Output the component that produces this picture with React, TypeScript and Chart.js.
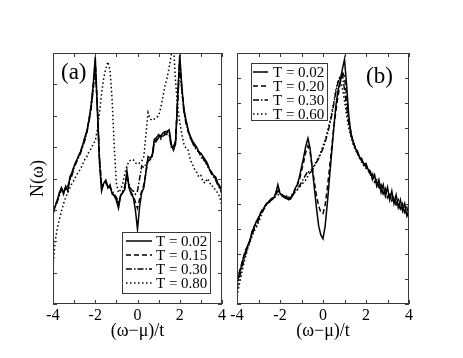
import React, { useEffect, useRef } from "react";
import { Chart, registerables } from "chart.js";
Chart.register(...registerables);

// Shared energy grid (ω−μ)/t
const XS = [-4.0, -3.9, -3.8, -3.7, -3.6, -3.5, -3.4, -3.3, -3.2, -3.1, -3.0, -2.9, -2.8, -2.7, -2.6, -2.5, -2.4, -2.3, -2.2, -2.1, -2.0, -1.9, -1.8, -1.7, -1.6, -1.5, -1.4, -1.3, -1.2, -1.1, -1.0, -0.9, -0.8, -0.7, -0.6, -0.5, -0.4, -0.3, -0.2, -0.1, 0.0, 0.1, 0.2, 0.3, 0.4, 0.5, 0.6, 0.7, 0.8, 0.9, 1.0, 1.1, 1.2, 1.3, 1.4, 1.5, 1.6, 1.7, 1.8, 1.9, 2.0, 2.1, 2.2, 2.3, 2.4, 2.5, 2.6, 2.7, 2.8, 2.9, 3.0, 3.1, 3.2, 3.3, 3.4, 3.5, 3.6, 3.7, 3.8, 3.9, 4.0];

// Panel (a)
const LABELS_A = ["T = 0.02", "T = 0.15", "T = 0.30", "T = 0.80"];
const A_T002 = [2.9, 3.1, 3.3, 3.55, 3.7, 3.5, 3.75, 3.6, 4.05, 4.2, 4.4, 4.55, 4.7, 4.85, 5.05, 5.3, 5.5, 5.85, 6.3, 6.95, 7.88, 6.2, 4.5, 3.6, 3.85, 3.95, 3.7, 3.8, 3.5, 3.45, 3.3, 3.05, 3.45, 3.55, 3.65, 4.25, 3.7, 3.5, 3.4, 3.0, 2.38, 3.1, 3.55, 3.7, 4.2, 4.7, 4.65, 4.75, 5.25, 5.3, 5.4, 5.35, 5.45, 5.5, 5.5, 5.55, 5.1, 4.9, 5.1, 6.6, 7.94, 6.9, 6.2, 5.85, 5.55, 5.35, 5.2, 5.1, 5.0, 4.85, 4.8, 4.7, 4.6, 4.5, 4.3, 4.2, 4.1, 4.05, 3.85, 3.75, 3.6];
const A_T015 = [2.95, 3.15, 3.3, 3.5, 3.7, 3.55, 3.7, 3.65, 4.0, 4.15, 4.4, 4.55, 4.7, 4.85, 5.05, 5.25, 5.5, 5.85, 6.3, 6.9, 7.75, 6.2, 4.6, 3.7, 3.8, 3.9, 3.75, 3.75, 3.55, 3.45, 3.35, 3.15, 3.45, 3.55, 3.7, 4.15, 3.75, 3.55, 3.45, 3.25, 3.05, 3.35, 3.6, 3.8, 4.2, 4.6, 4.6, 4.75, 5.2, 5.25, 5.35, 5.3, 5.4, 5.45, 5.45, 5.5, 5.05, 4.95, 5.15, 6.5, 7.8, 6.85, 6.15, 5.8, 5.5, 5.3, 5.15, 5.05, 4.95, 4.85, 4.75, 4.65, 4.55, 4.45, 4.3, 4.2, 4.05, 4.0, 3.85, 3.7, 3.55];
const A_T030 = [2.85, 3.1, 3.25, 3.45, 3.65, 3.6, 3.7, 3.75, 3.95, 4.1, 4.35, 4.5, 4.65, 4.8, 5.0, 5.2, 5.45, 5.8, 6.2, 6.8, 7.6, 6.3, 4.7, 3.8, 3.8, 3.85, 3.75, 3.7, 3.6, 3.5, 3.4, 3.25, 3.45, 3.6, 3.75, 4.05, 3.8, 3.65, 3.6, 3.5, 3.6, 4.0, 4.4, 4.35, 4.45, 4.55, 4.6, 4.7, 5.1, 5.2, 5.3, 5.25, 5.35, 5.4, 5.4, 5.4, 5.0, 5.0, 5.2, 6.4, 7.65, 6.8, 6.1, 5.75, 5.5, 5.3, 5.15, 5.0, 4.9, 4.85, 4.7, 4.6, 4.55, 4.4, 4.3, 4.15, 4.05, 3.95, 3.8, 3.7, 3.5];
const A_T080 = [1.2, 2.0, 2.4, 2.7, 2.95, 3.2, 3.4, 3.55, 3.7, 3.85, 3.95, 4.1, 4.2, 4.3, 4.45, 4.6, 4.7, 4.85, 4.95, 5.1, 5.2, 5.55, 6.1, 6.7, 7.2, 7.5, 7.72, 7.45, 6.5, 5.0, 3.85, 3.55, 3.65, 3.85, 4.15, 4.4, 4.55, 4.6, 4.6, 4.5, 4.45, 4.5, 4.55, 4.7, 5.4, 6.1, 5.9, 5.85, 5.9, 5.95, 6.0, 6.25, 6.6, 6.95, 7.2, 7.55, 7.95, 8.3, 7.1, 6.3, 5.8, 5.4, 5.1, 4.95, 4.9, 4.6, 4.45, 4.3, 4.2, 4.05, 4.1, 3.9, 3.85, 4.0, 3.9, 3.75, 3.75, 3.6, 3.55, 3.4, 3.1];

// Panel (b)
const LABELS_B = ["T = 0.02", "T = 0.20", "T = 0.30", "T = 0.60"];
const B_T002 = [0.83, 1.2, 1.5, 1.85, 2.1, 2.35, 2.5, 2.9, 3.05, 3.3, 3.4, 3.65, 3.75, 3.9, 4.0, 4.1, 4.15, 4.2, 4.4, 4.75, 4.4, 4.35, 4.25, 4.3, 4.15, 4.2, 4.35, 4.6, 4.75, 5.05, 5.45, 5.85, 6.3, 6.6, 6.2, 5.4, 4.6, 3.8, 3.1, 2.75, 2.6, 3.1, 4.0, 5.0, 6.0, 7.0, 7.9, 8.5, 8.9, 9.35, 9.75, 8.7, 7.5, 6.75, 6.5, 6.2, 6.1, 5.85, 5.8, 5.55, 5.6, 5.35, 5.3, 4.95, 5.15, 4.7, 4.95, 4.45, 4.75, 4.3, 4.65, 4.15, 4.5, 4.0, 4.35, 3.85, 4.15, 3.7, 4.0, 3.5, 3.7];
const B_T020 = [0.9, 1.25, 1.55, 1.85, 2.15, 2.3, 2.55, 2.85, 3.1, 3.25, 3.45, 3.6, 3.8, 3.9, 4.05, 4.1, 4.2, 4.25, 4.4, 4.65, 4.45, 4.35, 4.3, 4.25, 4.2, 4.25, 4.35, 4.55, 4.7, 4.95, 5.3, 5.65, 6.05, 6.3, 6.05, 5.45, 4.85, 4.3, 3.9, 3.65, 3.6, 3.95, 4.6, 5.4, 6.2, 7.0, 7.7, 8.3, 8.8, 9.25, 9.05, 8.3, 7.35, 6.85, 6.45, 6.25, 6.0, 5.9, 5.7, 5.65, 5.45, 5.45, 5.15, 5.2, 4.85, 4.95, 4.6, 4.75, 4.4, 4.6, 4.25, 4.45, 4.1, 4.3, 3.95, 4.15, 3.8, 4.0, 3.65, 3.85, 3.45];
const B_T030 = [0.6, 1.0, 1.35, 1.7, 2.0, 2.25, 2.5, 2.75, 3.0, 3.15, 3.35, 3.55, 3.7, 3.85, 4.0, 4.05, 4.15, 4.2, 4.35, 4.5, 4.4, 4.3, 4.25, 4.2, 4.15, 4.2, 4.35, 4.45, 4.55, 4.7, 4.85, 5.0, 5.15, 5.3, 5.2, 5.35, 5.5, 5.65, 5.8, 6.0, 6.2, 6.45, 6.75, 7.1, 7.5, 7.95, 8.45, 8.85, 9.1, 9.15, 8.55, 7.85, 7.2, 6.8, 6.45, 6.2, 6.05, 5.85, 5.7, 5.6, 5.45, 5.35, 5.2, 5.1, 4.9, 4.85, 4.65, 4.6, 4.4, 4.45, 4.25, 4.3, 4.1, 4.15, 3.95, 4.0, 3.8, 3.85, 3.65, 3.65, 3.45];
const B_T060 = [0.3, 0.75, 1.15, 1.55, 1.9, 2.2, 2.45, 2.7, 2.9, 3.05, 3.25, 3.45, 3.7, 3.85, 4.0, 4.1, 4.15, 4.2, 4.3, 4.35, 4.35, 4.3, 4.25, 4.2, 4.25, 4.3, 4.4, 4.5, 4.55, 4.65, 4.75, 4.85, 4.95, 5.1, 5.25, 5.4, 5.55, 5.7, 5.85, 6.05, 6.3, 6.55, 6.85, 7.2, 7.6, 8.05, 8.55, 8.9, 9.0, 8.6, 8.1, 7.5, 7.0, 6.65, 6.35, 6.15, 6.0, 5.8, 5.65, 5.5, 5.4, 5.3, 5.15, 5.05, 4.9, 4.8, 4.7, 4.55, 4.5, 4.4, 4.3, 4.25, 4.15, 4.1, 4.0, 3.9, 3.85, 3.75, 3.7, 3.6, 3.5];

const X_LABELED = [-4, -2, 0, 2, 4];

const SERIF = '"Liberation Serif", "Times New Roman", serif';
const DASHES = [[], [5, 3], [6, 2, 1.5, 2], [1.5, 2.5]];

const frameTicks = {
  id: "frameTicks",
  afterDatasetsDraw(chart: any) {
    const { ctx, chartArea: a, scales } = chart;
    const len = 4;
    ctx.save();
    ctx.strokeStyle = "#3a3a3a";
    ctx.lineWidth = 1;
    ctx.setLineDash([]);
    ctx.strokeRect(Math.round(a.left) + 0.5, Math.round(a.top) + 0.5, Math.round(a.right - a.left) - 1, Math.round(a.bottom - a.top) - 1);
    ctx.beginPath();
    for (const t of scales.x.ticks) {
      const px = Math.round(scales.x.getPixelForValue(t.value)) + 0.5;
      ctx.moveTo(px, a.bottom);
      ctx.lineTo(px, a.bottom - len);
      ctx.moveTo(px, a.top);
      ctx.lineTo(px, a.top + len);
    }
    for (const t of scales.y.ticks) {
      const py = Math.round(scales.y.getPixelForValue(t.value)) + 0.5;
      ctx.moveTo(a.left, py);
      ctx.lineTo(a.left + len, py);
      ctx.moveTo(a.right, py);
      ctx.lineTo(a.right - len, py);
    }
    ctx.stroke();
    ctx.restore();
  },
};

const boxLegend = {
  id: "boxLegend",
  afterDraw(chart: any, _args: any, o: any) {
    if (!o || !o.box) return;
    const { ctx } = chart;
    ctx.save();
    ctx.fillStyle = "#fff";
    ctx.fillRect(o.box[0], o.box[1], o.box[2], o.box[3]);
    ctx.strokeStyle = "#3a3a3a";
    ctx.lineWidth = 1;
    ctx.setLineDash([]);
    ctx.strokeRect(o.box[0] + 0.5, o.box[1] + 0.5, o.box[2], o.box[3]);
    ctx.font = `15px ${SERIF}`;
    ctx.textBaseline = "middle";
    ctx.fillStyle = "#000";
    chart.data.datasets.forEach((ds: any, i: number) => {
      const y = o.rowTop + i * o.rowH;
      ctx.beginPath();
      ctx.strokeStyle = "#000";
      ctx.lineWidth = ds.borderWidth;
      ctx.setLineDash(ds.borderDash || []);
      ctx.moveTo(o.lineX0, y);
      ctx.lineTo(o.lineX1, y);
      ctx.stroke();
      ctx.setLineDash([]);
      ctx.fillText(ds.label, o.textX, y + 1);
    });
    ctx.restore();
  },
};

const panelTag = {
  id: "panelTag",
  afterDraw(chart: any, _args: any, o: any) {
    if (!o || !o.text) return;
    const { ctx } = chart;
    ctx.save();
    ctx.font = `23px ${SERIF}`;
    ctx.fillStyle = "#000";
    ctx.textBaseline = "middle";
    ctx.fillText(o.text, o.x, o.y);
    ctx.restore();
  },
};

function makeConfig(p: any) {
  return {
    type: "line",
    data: {
      datasets: p.series.map((ys: number[], i: number) => ({
        label: p.labels[i],
        data: XS.map((x, j) => ({ x, y: ys[j] })),
        borderColor: "#000",
        borderWidth: 1.5,
        borderDash: DASHES[i],
        pointRadius: 0,
        tension: 0,
        fill: false,
      })),
    },
    options: {
      animation: false,
      responsive: false,
      maintainAspectRatio: false,
      layout: { padding: { left: 0, right: p.padRight, top: 53, bottom: 0 } },
      plugins: {
        legend: { display: false },
        tooltip: { enabled: false },
        boxLegend: p.legend,
        panelTag: p.tag,
      },
      scales: {
        x: {
          type: "linear",
          min: -4,
          max: 4,
          grid: { display: false, drawTicks: false },
          border: { display: false },
          ticks: {
            stepSize: 1,
            autoSkip: false,
            maxRotation: 0,
            padding: 2,
            color: "#000",
            font: { family: SERIF, size: 16 },
            callback: (v: number) => (X_LABELED.includes(v) ? String(v) : ""),
          },
          title: {
            display: true,
            text: "(ω−μ)/t",
            color: "#000",
            font: { family: SERIF, size: 18 },
            padding: { top: 0, bottom: 16 },
          },
          afterFit: (s: any) => {
            s.height = 54;
          },
        },
        y: {
          min: 0,
          max: p.yMax,
          grid: { display: false, drawTicks: false },
          border: { display: false },
          ticks: { display: false, stepSize: 1 },
          title: {
            display: p.yTitle,
            text: "N(ω)",
            color: "#000",
            font: { family: SERIF, size: 18 },
            padding: { top: 27, bottom: 0 },
          },
          afterFit: (s: any) => {
            s.width = p.yWidth;
          },
        },
      },
    },
    plugins: [frameTicks, boxLegend, panelTag],
  };
}

const PANEL_A = {
  series: [A_T002, A_T015, A_T030, A_T080],
  labels: LABELS_A,
  yMax: 8,
  yWidth: 53,
  padRight: 9,
  yTitle: true,
  legend: { box: [122, 232, 88, 61], rowTop: 241, rowH: 14, lineX0: 126, lineX1: 152, textX: 156 },
  tag: { text: "(a)", x: 61, y: 73 },
};

const PANEL_B = {
  series: [B_T002, B_T020, B_T030, B_T060],
  labels: LABELS_B,
  yMax: 10,
  yWidth: 37,
  padRight: 54,
  yTitle: false,
  legend: { box: [51, 63, 76, 57], rowTop: 72, rowH: 14, lineX0: 53, lineX1: 68, textX: 73 },
  tag: { text: "(b)", x: 166, y: 77 },
};

function Panel({ cfg, left, width }: { cfg: any; left: number; width: number }) {
  const ref = useRef<HTMLCanvasElement | null>(null);
  useEffect(() => {
    if (!ref.current) return;
    const chart = new Chart(ref.current, makeConfig(cfg) as any);
    return () => chart.destroy();
  }, []);
  return (
    <canvas
      ref={ref}
      width={width}
      height={358}
      style={{ position: "absolute", left, top: 0, width, height: 358 }}
    />
  );
}

export default function App() {
  return (
    <div style={{ position: "fixed", left: 0, top: 0, width: 463, height: 358, background: "#fff" }}>
      <Panel cfg={PANEL_A} left={0} width={231} />
      <Panel cfg={PANEL_B} left={200} width={263} />
    </div>
  );
}
